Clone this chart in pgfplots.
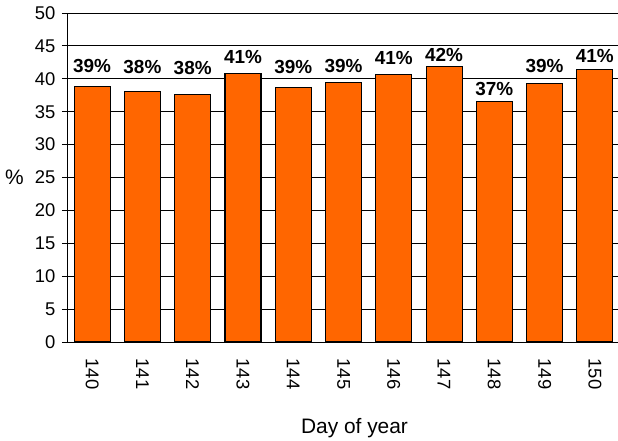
\documentclass[border=0pt]{standalone}
\usepackage{fontspec}
\setmainfont{Liberation Sans}
\usepackage{pgfplots}
\pgfplotsset{compat=1.18}
\usepackage{pgfplotstable}
\definecolor{barorange}{HTML}{FF6600}

% val = bar height (%), lab = printed label, ly = height of label baseline
\pgfplotstableread{
idx day val lab ly
0 140 38.8 39 40.99
1 141 38.05 38 40.73
2 142 37.55 38 40.58
3 143 40.84 41 42.31
4 144 38.7 39 40.84
5 145 39.4 39 40.94
6 146 40.7 41 42.16
7 147 41.85 42 42.66
8 148 36.55 37 37.45
9 149 39.3 39 40.94
10 150 41.44 41 42.51
}\datatable

\begin{document}
\begin{tikzpicture}
\begin{axis}[
  scale only axis,
  width=551bp, height=329bp,
  ymin=0, ymax=50, ytick={0,5,...,50},
  xmin=-0.5, xmax=10.46,
  xtick=data,
  xticklabels from table={\datatable}{day},
  axis x line*=bottom,
  axis y line*=left,
  axis line style={black, line width=1pt},
  ymajorgrids,
  grid style={black, line width=0.9pt},
  tick align=outside,
  major tick length=5bp,
  ytick style={black, line width=0.9pt},
  xtick style={draw=none},
  /pgf/number format/assume math mode=true,
  ticklabel style={font=\fontsize{18.5}{22}\selectfont},
  yticklabel style={xshift=-3bp},
  xticklabel style={yshift=-8bp, rotate=-90, anchor=west},
  xlabel={Day of year},
  ylabel={\%},
  every axis x label/.style={at={(axis description cs:0.5,0)}, anchor=base, yshift=-91bp, xshift=12bp, font=\fontsize{21}{25}\selectfont},
  every axis y label/.style={at={(axis description cs:0,0.5)}, anchor=center, xshift=-52.5bp, font=\fontsize{21}{25}\selectfont},
  ybar, bar width=36bp, bar shift=0pt,
]
\addplot[fill=barorange, draw=black, line width=1.1pt] table[x=idx, y=val] {\datatable};
\addplot[draw=none, fill=none,
  point meta=explicit symbolic,
  nodes near coords={\pgfplotspointmeta\%},
  every node near coord/.append style={anchor=base, yshift=0pt, inner sep=0pt, font=\bfseries\fontsize{19}{22}\selectfont, black},
] table[x=idx, y=ly, meta=lab] {\datatable};
\end{axis}
\pgfresetboundingbox
\path (current axis.south west) ++(-67bp,-99bp) rectangle ++(618bp,441bp);
\end{tikzpicture}
\end{document}
